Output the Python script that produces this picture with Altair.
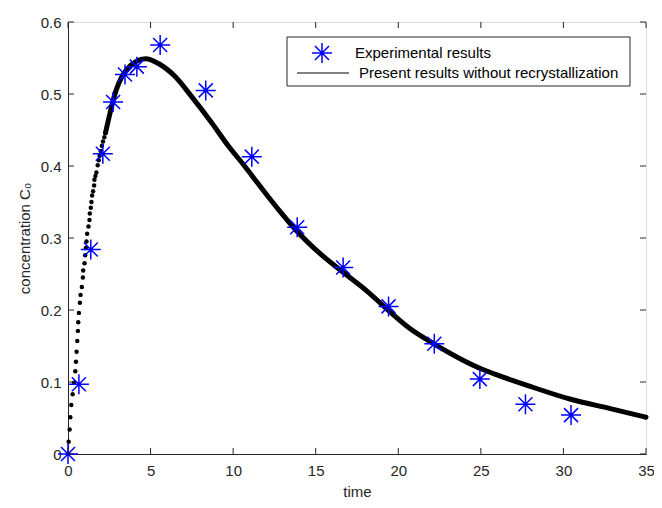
import altair as alt
import pandas as pd

# Experimental results (blue asterisks)
exp_time = [0.0, 0.66, 1.38, 2.11, 2.73, 3.45, 4.17, 5.58, 8.34, 11.13, 13.88, 16.66, 19.41, 22.18, 24.94, 27.70, 30.46]
exp_conc = [0.0, 0.097, 0.284, 0.417, 0.489, 0.527, 0.538, 0.568, 0.505, 0.413, 0.315, 0.259, 0.205, 0.153, 0.104, 0.069, 0.054]

# Model curve: rising part drawn as separate dots
dot_time = [0.0, 0.04, 0.10, 0.14, 0.20, 0.28, 0.36, 0.44, 0.48, 0.52, 0.56, 0.60, 0.62, 0.66, 0.72,
            0.76, 0.84, 0.90, 0.92, 1.00, 1.04, 1.08, 1.12, 1.16, 1.24, 1.30, 1.32, 1.38, 1.42, 1.46,
            1.52, 1.58, 1.60, 1.66, 1.72, 1.80, 1.86, 1.91, 1.98, 2.05, 2.12, 2.20, 2.27]
dot_conc = [0.0, 0.017, 0.034, 0.051, 0.068, 0.083, 0.099, 0.115, 0.128, 0.142, 0.157, 0.171, 0.183, 0.196, 0.210,
            0.221, 0.232, 0.245, 0.255, 0.265, 0.276, 0.286, 0.295, 0.306, 0.316, 0.325, 0.334, 0.342, 0.350, 0.359,
            0.365, 0.373, 0.381, 0.386, 0.391, 0.401, 0.408, 0.414, 0.421, 0.428, 0.434, 0.440, 0.446]

# Model curve: dense part (thick line)
line_time = [2.27, 2.55, 2.91, 3.31, 3.81, 4.71, 5.50, 6.50, 7.50, 8.70, 9.70, 10.69,
             11.19, 12.69, 13.88, 15.08, 16.68, 18.07, 19.47, 20.66, 22.16, 23.86, 25.05, 25.85, 27.85,
             30.44, 32.84, 35.0]
line_conc = [0.446, 0.474, 0.505, 0.526, 0.540, 0.549, 0.542, 0.524, 0.496, 0.460, 0.428, 0.400,
             0.385, 0.341, 0.309, 0.282, 0.252, 0.227, 0.198, 0.175, 0.153, 0.131, 0.118, 0.111, 0.095,
             0.076, 0.063, 0.051]

x_ticks = [0, 5, 10, 15, 20, 25, 30, 35]
y_ticks = [0, 0.1, 0.2, 0.3, 0.4, 0.5, 0.6]

legend_labels = ["Experimental results", "Present results without recrystallization"]

W, H = 578, 432
FONT = "Liberation Sans"
AXC = "#262626"
STAR = "M-1,0L1,0M0,-1L0,1M-0.7,-0.7L0.7,0.7M-0.7,0.7L0.7,-0.7"

xscale = alt.Scale(domain=[0, 35], nice=False, zero=False)
yscale = alt.Scale(domain=[0, 0.6], nice=False, zero=False)
xaxis = alt.Axis(values=x_ticks, ticks=False, grid=False, domainColor=AXC, labelColor=AXC,
                 labelFontSize=15, labelFont=FONT, labelPadding=9, title="time",
                 titleFont=FONT, titleFontSize=15, titleFontWeight="normal", titleColor=AXC,
                 titlePadding=6, labelFlush=False)
yaxis = alt.Axis(values=y_ticks, ticks=False, grid=False, domainColor=AXC, labelColor=AXC,
                 labelFontSize=15, labelFont=FONT, labelPadding=7, title="concentration C₀",
                 titleFont=FONT, titleFontSize=15, titleFontWeight="normal", titleColor=AXC,
                 titlePadding=8, labelFlush=False,
                 labelExpr="datum.value == 0 ? '0' : format(datum.value, '.1f')")

def X(f="t"):
    return alt.X(f"{f}:Q", scale=xscale, axis=xaxis)

def Y(f="c"):
    return alt.Y(f"{f}:Q", scale=yscale, axis=yaxis)

exp_df = pd.DataFrame({"t": exp_time, "c": exp_conc})
dot_df = pd.DataFrame({"t": dot_time, "c": dot_conc})
line_df = pd.DataFrame({"t": line_time, "c": line_conc})
xt_df = pd.DataFrame({"t": x_ticks})
yt_df = pd.DataFrame({"c": y_ticks})
one = pd.DataFrame({"a": [0]})

curve_line = alt.Chart(line_df).mark_line(color="black", strokeWidth=5, strokeJoin="round",
                                          strokeCap="round", interpolate="monotone").encode(x=X(), y=Y())
curve_dots = alt.Chart(dot_df).mark_point(shape="circle", filled=True, color="black", size=20, opacity=1).encode(x=X(), y=Y())
stars = alt.Chart(exp_df).mark_point(shape=STAR, filled=False, color="#0000ff", size=400,
                                     strokeWidth=1.5, opacity=1).encode(x=X(), y=Y())

tick_len = 6
xt_bottom = alt.Chart(xt_df).mark_rule(color=AXC, strokeWidth=1).encode(
    x=X(), y=alt.value(H), y2=alt.value(H - tick_len))
xt_top = alt.Chart(xt_df).mark_rule(color=AXC, strokeWidth=1).encode(
    x=X(), y=alt.value(0), y2=alt.value(tick_len))
yt_left = alt.Chart(yt_df).mark_rule(color=AXC, strokeWidth=1).encode(
    y=Y(), x=alt.value(0), x2=alt.value(tick_len))
yt_right = alt.Chart(yt_df).mark_rule(color=AXC, strokeWidth=1).encode(
    y=Y(), x=alt.value(W), x2=alt.value(W - tick_len))

# Legend (manual, MATLAB style), anchored to the upper right of the plot area
lx1 = W - 16
lx0 = lx1 - 343
ly0, ly1 = 15, 64
leg_box = alt.Chart(one).mark_rect(fill="white", stroke=AXC, strokeWidth=1).encode(
    x=alt.value(lx0), x2=alt.value(lx1), y=alt.value(ly0), y2=alt.value(ly1))
leg_star = alt.Chart(one).mark_point(shape=STAR, filled=False, color="#0000ff", size=400,
                                     strokeWidth=1.5, opacity=1).encode(
    x=alt.value(lx0 + 35), y=alt.value(31))
leg_line = alt.Chart(one).mark_rule(color="black", strokeWidth=1).encode(
    x=alt.value(lx0 + 10), x2=alt.value(lx0 + 62), y=alt.value(51))
leg_t1 = alt.Chart(one).mark_text(align="left", baseline="middle", font=FONT, fontSize=15, color="black").encode(
    x=alt.value(lx0 + 68), y=alt.value(31), text=alt.value(legend_labels[0]))
leg_t2 = alt.Chart(one).mark_text(align="left", baseline="middle", font=FONT, fontSize=15, color="black").encode(
    x=alt.value(lx0 + 72), y=alt.value(51), text=alt.value(legend_labels[1]))

chart = alt.layer(
    curve_line, curve_dots, stars,
    xt_bottom, xt_top, yt_left, yt_right,
    leg_box, leg_star, leg_line, leg_t1, leg_t2,
).properties(
    width=W, height=H,
    autosize=alt.AutoSizeParams(type="none"),
    padding={"left": 60, "top": 14, "right": 8, "bottom": 46},
).configure_view(stroke=AXC, strokeWidth=1).configure(background="white")

chart.save("out.html", embed_options={"renderer": "svg", "actions": False})
